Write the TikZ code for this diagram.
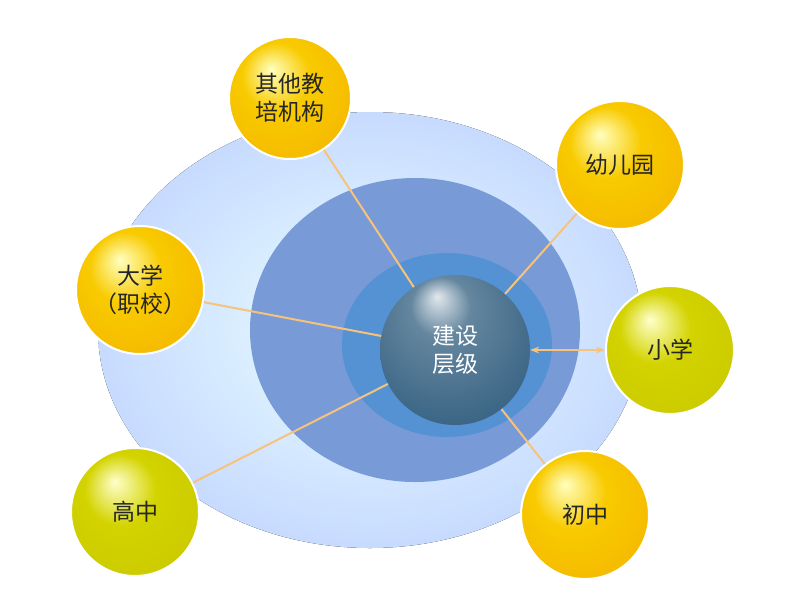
\documentclass[tikz,border=0pt]{standalone}
\usepackage{fontspec}
\newfontfamily\cjk{Noto Sans CJK SC}
\usetikzlibrary{arrows.meta}
\definecolor{gold}{HTML}{F5B400}
\definecolor{olive}{HTML}{C8C800}
\definecolor{lnk}{HTML}{F7C27A}
\definecolor{corec}{HTML}{3E6887}
\pgfdeclareradialshading{goldsh}{\pgfpoint{-8bp}{12bp}}{color(0bp)=(yellow!25!white); color(14bp)=(gold!70!yellow); color(38bp)=(gold); color(50bp)=(gold!88!black)}
\pgfdeclareradialshading{olivesh}{\pgfpoint{-8bp}{12bp}}{color(0bp)=(yellow!20!white); color(14bp)=(olive!80!yellow); color(38bp)=(olive); color(50bp)=(olive!85!black)}
\pgfdeclareradialshading{coresh}{\pgfpoint{-6bp}{18bp}}{color(0bp)=(white!85!corec); color(10bp)=(corec!80!white); color(30bp)=(corec); color(50bp)=(corec!75!black)}
\tikzset{
 ball/.style={circle,minimum size=#1,inner sep=0pt,font=\cjk\fontsize{23}{28}\selectfont,align=center,text=black!85},
 goldball/.style={ball=128pt,draw=white,line width=2pt,shading=goldsh},
 oliveball/.style={ball=128pt,draw=white,line width=2pt,shading=olivesh},
 lk/.style={draw=lnk,line width=2pt}
}
\begin{document}
\begin{tikzpicture}[x=1pt,y=-1pt]
\useasboundingbox (0,0) rectangle (800,606);
\fill[shading=radial,inner color=cyan!8!white,outer color=cyan!35!blue!22] (370,330) ellipse [x radius=272,y radius=218];
\fill[color=cyan!45!blue!55] (415,330) ellipse [x radius=165,y radius=152];
\fill[color=cyan!55!blue!70] (447,345) ellipse [x radius=105,y radius=92];
\node[ball=150pt,shading=coresh,text=white] (core) at (455,350) {建设\\层级};
\node[goldball,minimum size=122pt] (a) at (290,98) {其他教\\培机构};
\node[goldball] (b) at (620,165) {幼儿园};
\node[goldball] (c) at (140,290) {大学\\（职校）};
\node[oliveball] (d) at (670,350) {小学};
\node[oliveball] (e) at (135,512) {高中};
\node[goldball] (f) at (585,515) {初中};
\draw[lk] (a) -- (core);
\draw[lk] (b) -- (core);
\draw[lk] (c) -- (core);
\draw[lk,{Stealth[length=9pt]}-{Stealth[length=9pt]}] (core) -- (d.west);
\draw[lk] (e) -- (core);
\draw[lk] (f) -- (core);
\end{tikzpicture}
\end{document}
